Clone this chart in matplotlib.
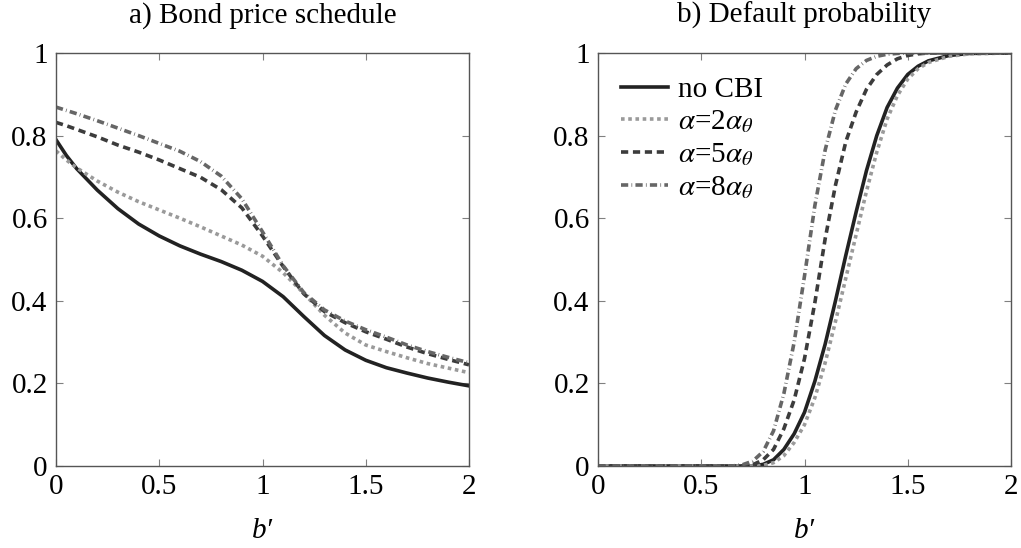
import matplotlib
matplotlib.use("Agg")
import matplotlib.pyplot as plt
from matplotlib.ticker import FuncFormatter

plt.rcParams['font.family'] = ['Liberation Serif', 'DejaVu Serif']
plt.rcParams['mathtext.fontset'] = 'stix'

# a) bond price schedule
x_price = [0.0, 0.05, 0.1, 0.2, 0.3, 0.4, 0.5, 0.6, 0.7, 0.8, 0.9, 1.0,
           1.1, 1.2, 1.3, 1.4, 1.5, 1.6, 1.7, 1.8, 1.9, 2.0]
price_nocbi = [0.79, 0.752, 0.72, 0.668, 0.623, 0.586, 0.557, 0.533, 0.513, 0.495, 0.474, 0.447,
               0.41, 0.362, 0.316, 0.281, 0.256, 0.238, 0.225, 0.213, 0.203, 0.194]
price_a2 = [0.763, 0.741, 0.722, 0.69, 0.663, 0.64, 0.62, 0.6, 0.579, 0.557, 0.535, 0.508,
            0.468, 0.418, 0.365, 0.322, 0.293, 0.277, 0.262, 0.248, 0.237, 0.226]
price_a5 = [0.832, 0.824, 0.815, 0.797, 0.777, 0.76, 0.741, 0.72, 0.699, 0.669, 0.625, 0.557,
            0.483, 0.417, 0.374, 0.347, 0.325, 0.307, 0.288, 0.272, 0.258, 0.245]
price_a8 = [0.869, 0.861, 0.853, 0.836, 0.818, 0.8, 0.781, 0.762, 0.737, 0.702, 0.647, 0.567,
            0.485, 0.42, 0.378, 0.351, 0.33, 0.312, 0.293, 0.277, 0.263, 0.25]

# b) default probability
x_prob = [0.0, 0.2, 0.4, 0.6, 0.65, 0.7, 0.75, 0.8, 0.85, 0.9, 0.95, 1.0, 1.05, 1.1,
          1.15, 1.2, 1.25, 1.3, 1.35, 1.4, 1.45, 1.5, 1.55, 1.6, 1.7, 1.8, 2.0]
prob_nocbi = [0, 0, 0, 0, 0, 0, 0.0, 0.004, 0.015, 0.04, 0.078, 0.13, 0.205, 0.295,
              0.40, 0.51, 0.615, 0.715, 0.8, 0.868, 0.915, 0.948, 0.968, 0.981, 0.994, 0.999, 1.0]
prob_a2 = [0, 0, 0, 0, 0, 0, 0.0, 0.0015, 0.008, 0.025, 0.057, 0.10, 0.165, 0.25,
           0.35, 0.455, 0.56, 0.665, 0.76, 0.84, 0.897, 0.937, 0.962, 0.977, 0.992, 0.998, 1.0]
prob_a5 = [0, 0, 0, 0, 0, 0.0, 0.003, 0.015, 0.04, 0.09, 0.16, 0.26, 0.395, 0.55,
           0.68, 0.785, 0.857, 0.912, 0.948, 0.971, 0.986, 0.994, 0.998, 1.0, 1.0, 1.0, 1.0]
prob_a8 = [0, 0, 0, 0, 0.0, 0.003, 0.012, 0.035, 0.085, 0.175, 0.3, 0.46, 0.63, 0.765,
           0.862, 0.925, 0.962, 0.982, 0.992, 0.997, 0.999, 1.0, 1.0, 1.0, 1.0, 1.0, 1.0]

labels = ['no CBI', r'$\alpha$=2$\alpha_\theta$', r'$\alpha$=5$\alpha_\theta$', r'$\alpha$=8$\alpha_\theta$']

# line looks, roughly pgfplots solid / dotted / dashed / dashdotted
styles = [
    dict(color='#222222', linestyle='-'),
    dict(color='#9a9a9a', linestyle=(0, (1.0, 1.0))),
    dict(color='#3c3c3c', linestyle=(0, (2.0, 1.3))),
    dict(color='#666666', linestyle=(0, (2.0, 0.9, 0.2, 0.9))),
]
lw = 2.6

fig = plt.figure(figsize=(10.21, 5.48), dpi=100)
ax1 = fig.add_axes([56 / 1021, 82 / 548, 413 / 1021, 413 / 548])
ax2 = fig.add_axes([598 / 1021, 82 / 548, 413 / 1021, 413 / 548])

for ys, lab, st in zip([price_nocbi, price_a2, price_a5, price_a8], labels, styles):
    ax1.plot(x_price, ys, lw=lw, dash_capstyle='butt', label=lab, **st)
for ys, lab, st in zip([prob_nocbi, prob_a2, prob_a5, prob_a8], labels, styles):
    ax2.plot(x_prob, ys, lw=lw, dash_capstyle='butt', label=lab, **st)

fmt = FuncFormatter(lambda v, pos: '%g' % v)
for ax, title in [(ax1, 'a) Bond price schedule'), (ax2, 'b) Default probability')]:
    ax.set_xlim(0, 2)
    ax.set_ylim(0, 1)
    ax.set_xticks([0, 0.5, 1, 1.5, 2])
    ax.set_yticks([0, 0.2, 0.4, 0.6, 0.8, 1])
    ax.xaxis.set_major_formatter(fmt)
    ax.yaxis.set_major_formatter(fmt)
    ax.tick_params(direction='in', top=True, right=True, length=5, width=0.8,
                   color='#808080', labelsize=21, pad=6)
    for sp in ax.spines.values():
        sp.set_color('#555555')
        sp.set_linewidth(1.0)
    ax.set_title(title, fontsize=21, pad=22)
    ax.set_xlabel('b\u2032', fontsize=21, style='italic', labelpad=13)

leg = ax2.legend(loc='upper left', frameon=False, fontsize=21, handlelength=1.6,
                 handletextpad=0.35, labelspacing=0.2, borderaxespad=0.4)

plt.savefig('out.png', dpi=100)
